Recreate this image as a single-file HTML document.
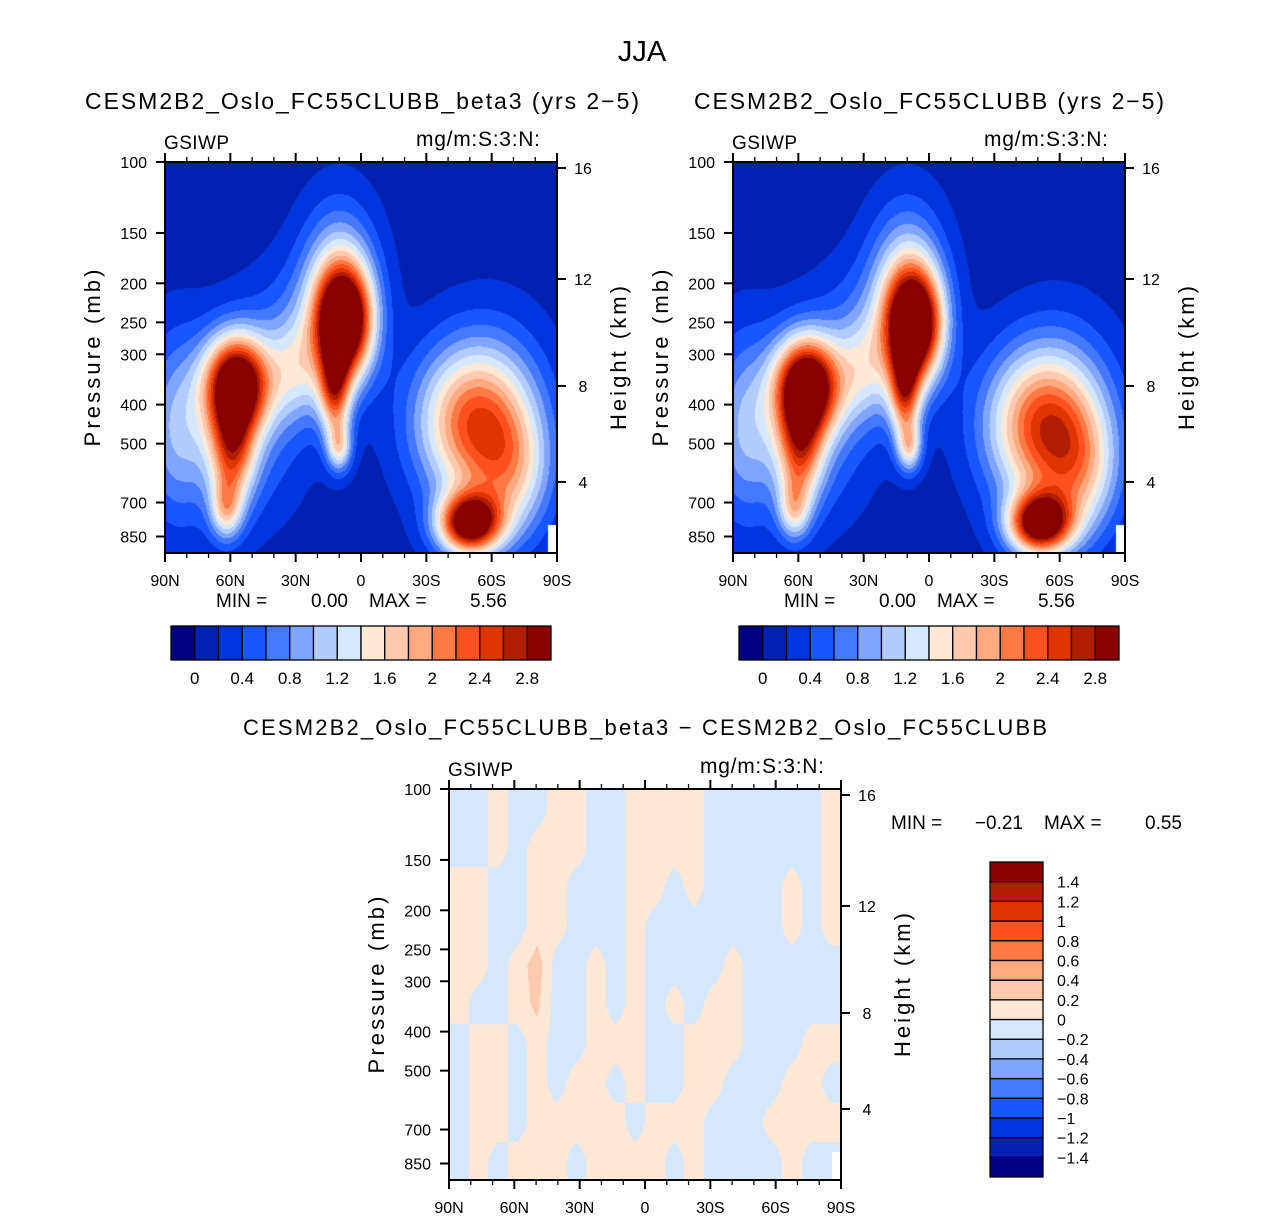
<!DOCTYPE html>
<html><head><meta charset="utf-8">
<style>
html,body{margin:0;padding:0;background:#fff;}
#wrap{position:relative;width:1285px;height:1219px;overflow:hidden;font-family:"Liberation Sans",sans-serif;}
canvas{position:absolute;}
svg{position:absolute;left:0;top:0;}
text{font-family:"Liberation Sans",sans-serif;fill:#000;}
</style></head>
<body>
<div id="wrap">
<canvas id="c1" width="392" height="391" style="left:165px;top:162px"></canvas>
<canvas id="c2" width="392" height="391" style="left:733px;top:162px"></canvas>
<canvas id="c3" width="392" height="392" style="left:449px;top:789px"></canvas>
<svg id="ov" width="1285" height="1219"></svg>
</div>
<script>
// ---- data ----
const palette = ["#000080","#0021b0","#0034dc","#1a56ff","#4478ff","#7fa5ff","#b3ccff","#d6e8ff","#ffe8d6","#ffcab0","#ffaa80","#ff7a45","#ff5020","#e03500","#b01e00","#880000"];
const topLevels = [0,0.2,0.4,0.6,0.8,1,1.2,1.4,1.6,1.8,2,2.2,2.4,2.6,2.8];
const topLabels = ["0","0.4","0.8","1.2","1.6","2","2.4","2.8"];
const diffLevels = [-1.4,-1.2,-1,-0.8,-0.6,-0.4,-0.2,0,0.2,0.4,0.6,0.8,1,1.2,1.4];
const diffLabels = ["1.4","1.2","1","0.8","0.6","0.4","0.2","0","\u22120.2","\u22120.4","\u22120.6","\u22120.8","\u22121","\u22121.2","\u22121.4"];
const latTicks = ["90N","60N","30N","0","30S","60S","90S"];
const presTicks = [100,150,200,250,300,400,500,700,850];
const heightTicks = [16,12,8,4];
const heightPos = [168,279,386,482];
// blobs: [lat(deg), pressure(mb), lat width(deg), log-p width, amplitude]
const blobs1 = [
 [57,355,10,0.19,2.9],[59,520,7,0.22,1.6],[62,730,5,0.12,1.1],
 [8,250,9,0.22,3.4],[12,370,5,0.18,1.8],[10,510,4,0.1,1.2],
 [30,330,9,0.2,0.7],
 [10,190,12,0.3,0.9],[25,270,18,0.3,0.5],
 [60,450,20,0.35,0.8],[86,460,10,0.38,0.6],
 [-50,440,18,0.3,1.7],[-50,790,10,0.12,3.0],[-70,600,12,0.25,0.8],[-62,470,18,0.4,0.7]
];
const blobs2 = [
 [56,360,10,0.19,3.0],[59,520,7,0.22,1.5],[62,730,5,0.12,1.0],
 [7,255,9,0.22,3.4],[11,375,5,0.18,1.8],[9,510,4,0.1,1.2],
 [30,330,9,0.2,0.7],
 [10,190,12,0.3,0.9],[25,270,18,0.3,0.5],
 [60,450,20,0.35,0.8],[86,460,10,0.38,0.6],
 [-51,450,18,0.3,1.8],[-51,790,10,0.12,3.0],[-70,600,12,0.25,0.8],[-62,470,18,0.4,0.7]
];
// difference field on a 20 (lat) x 10 (level) grid, top row first
const diffGrid = [
 [-.1,-.1,.1,-.1,-.1,.1,.1,-.1,-.1,.1,.1,.1,.1,-.1,-.1,-.1,-.1,-.1,-.1,.1],
 [-.1,-.1,.1,-.1,.1,.1,.1,-.1,-.1,.1,.1,.1,.1,-.1,-.1,-.1,-.1,-.1,-.1,.1],
 [.1,.1,-.1,-.1,.1,.1,-.1,-.1,-.1,.1,.1,-.1,.1,-.1,-.1,-.1,-.1,.1,-.1,.1],
 [.1,.1,-.1,-.1,.1,.1,-.1,-.1,-.1,.1,-.1,-.1,-.1,-.1,-.1,-.1,-.1,.1,-.1,.1],
 [.1,.1,-.1,.1,.3,-.1,-.1,.1,-.1,.1,-.1,-.1,-.1,-.1,.1,-.1,-.1,-.1,-.1,-.1],
 [.1,-.1,-.1,.1,.25,-.1,-.1,.1,-.1,.1,-.1,.1,-.1,.1,.1,-.1,-.1,-.1,-.1,-.1],
 [-.1,.1,.1,-.1,.1,-.1,-.1,.1,.1,.1,-.1,-.1,.1,.1,.1,-.1,-.1,-.1,.1,.1],
 [-.1,.1,.1,-.1,.1,-.1,.1,.1,-.1,.1,-.1,-.1,.1,.1,-.1,-.1,-.1,.1,.1,-.1],
 [-.1,.1,.1,-.1,.1,.1,.1,.1,.1,-.1,.1,.1,.1,-.1,-.1,-.1,.1,.1,.1,.1],
 [-.1,.1,-.1,.1,.1,.1,-.1,.1,.1,.1,.1,-.1,.1,-.1,-.1,-.1,-.1,.1,-.1,-.1]
];

// ---- axis functions ----
const W=392, H=391;
function xOfLat(lat){ return (90-lat)/180*W; }
function latOfX(x){ return 90 - x/W*180; }
function yOfP(p){ return 175*Math.log(p/100); }
function pOfY(y){ return 100*Math.exp(y/175); }
function levelIndex(v, levels){ let i=0; while(i<levels.length && v>=levels[i]) i++; return i; }
const rgb=palette.map(h=>[parseInt(h.slice(1,3),16),parseInt(h.slice(3,5),16),parseInt(h.slice(5,7),16)]);

function drawTop(id, blobs){
  const c=document.getElementById(id), ctx=c.getContext('2d');
  const img=ctx.createImageData(c.width,c.height);
  for(let y=0;y<c.height;y++){
    const lp=Math.log(pOfY(y+0.5));
    for(let x=0;x<c.width;x++){
      const lat=latOfX(x+0.5);
      let v=0.1;
      for(const b of blobs){
        const dx=(lat-b[0])/b[2], dy=(lp-Math.log(b[1]))/b[3];
        v+=b[4]*Math.exp(-0.5*(dx*dx+dy*dy));
      }
      const k=(y*c.width+x)*4;
      let col=rgb[levelIndex(v,topLevels)];
      if(x>382 && y>362){ col=[255,255,255]; }
      img.data[k]=col[0];img.data[k+1]=col[1];img.data[k+2]=col[2];img.data[k+3]=255;
    }
  }
  ctx.putImageData(img,0,0);
}
function drawDiff(){
  const c=document.getElementById('c3'), ctx=c.getContext('2d');
  const img=ctx.createImageData(c.width,c.height);
  const nc=diffGrid[0].length, nr=diffGrid.length;
  for(let y=0;y<c.height;y++){
    let gy=Math.min(Math.max((y+0.5)/c.height*nr-0.5,0),nr-1);
    const y0=Math.floor(gy), y1=Math.min(y0+1,nr-1), fy=gy-y0;
    for(let x=0;x<c.width;x++){
      let gx=Math.min(Math.max((x+0.5)/c.width*nc-0.5,0),nc-1);
      const x0=Math.floor(gx), x1=Math.min(x0+1,nc-1), fx=gx-x0;
      const v=(diffGrid[y0][x0]*(1-fx)+diffGrid[y0][x1]*fx)*(1-fy)+(diffGrid[y1][x0]*(1-fx)+diffGrid[y1][x1]*fx)*fy;
      const k=(y*c.width+x)*4;
      let col=rgb[levelIndex(v,diffLevels)];
      if(x>382 && y>362) col=[255,255,255];
      img.data[k]=col[0];img.data[k+1]=col[1];img.data[k+2]=col[2];img.data[k+3]=255;
    }
  }
  ctx.putImageData(img,0,0);
}
drawTop('c1',blobs1); drawTop('c2',blobs2); drawDiff();

// ---- SVG overlay ----
const NS="http://www.w3.org/2000/svg", svg=document.getElementById('ov');
function el(tag,attrs,parent){const e=document.createElementNS(NS,tag);for(const k in attrs)e.setAttribute(k,attrs[k]);(parent||svg).appendChild(e);return e;}
function txt(s,x,y,size,anchor,extra){const t=el('text',Object.assign({x:x,y:y,'font-size':size,'text-anchor':anchor||'start'},extra||{}));t.textContent=s;return t;}

function axes(ox,oy,name,hPos){
  const g=el('g',{});
  
  
  el('rect',{x:ox,y:oy,width:W,height:H,fill:'none',stroke:'#000','stroke-width':2},g);
  for(let lat=90;lat>=-90;lat-=10){
    const x=ox+xOfLat(lat), major=(lat%30===0), L=major?9:5;
    el('line',{x1:x,y1:oy+H,x2:x,y2:oy+H+L,stroke:'#000','stroke-width':major?2:1.3},g);
    el('line',{x1:x,y1:oy,x2:x,y2:oy-L,stroke:'#000','stroke-width':major?2:1.3},g);
  }
  latTicks.forEach((s,i)=>{
    const t=txt(s,ox+xOfLat(90-30*i),oy+H+33,16,'middle');
    g.appendChild(t);
    
    
  });
  presTicks.forEach(p=>{
    const y=oy+yOfP(p);
    el('line',{x1:ox-9,y1:y,x2:ox,y2:y,stroke:'#000','stroke-width':2},g);
    const t=txt(String(p),ox-18,y+6,16,'end');
    g.appendChild(t);
    
    
  });
  heightTicks.forEach((h,i)=>{
    const y=hPos[i];
    el('line',{x1:ox+W,y1:y,x2:ox+W+9,y2:y,stroke:'#000','stroke-width':2},g);
    const t=txt(String(h),ox+W+26,y+6,16,'middle');
    g.appendChild(t);
    
    
  });
  const yt=txt('Pressure (mb)',0,0,22,'middle',{transform:`translate(${ox-65},${oy+196}) rotate(-90)`,textLength:177});
  
  
  const ht=txt('Height (km)',0,0,22,'middle',{transform:`translate(${ox+W+69},${oy+196}) rotate(-90)`,textLength:144});
  
  
  const v=txt('GSIWP',ox-1,oy-13,19,'start',{textLength:65});
  
  
  const u=txt('mg/m:S:3:N:',ox+251,oy-16,21,'start',{textLength:124});
  
  
}
axes(165,162,'panel-beta3',heightPos);
axes(733,162,'panel-control',heightPos);
axes(449,789,'panel-difference',heightPos.map(y=>y+627));

const t0=txt('JJA',642,61,29,'middle');  
const t1=txt('CESM2B2_Oslo_FC55CLUBB_beta3 (yrs 2\u22125)',85,109,23,'start',{textLength:554});  
const t2=txt('CESM2B2_Oslo_FC55CLUBB (yrs 2\u22125)',694,109,23,'start',{textLength:470});  
const t3=txt('CESM2B2_Oslo_FC55CLUBB_beta3 \u2212 CESM2B2_Oslo_FC55CLUBB',243,735,22,'start',{textLength:804});  

function minmax(x,y,minv,maxv,name){
  const g=el('g',{});
  
  
  g.appendChild(txt('MIN =',x,y,19,'start'));
  g.appendChild(txt(minv,x+132,y,19,'end'));
  g.appendChild(txt('MAX =',x+153,y,19,'start'));
  g.appendChild(txt(maxv,x+291,y,19,'end'));
}
minmax(216,607,'0.00','5.56','minmax-beta3');
minmax(784,607,'0.00','5.56','minmax-control');
minmax(891,829,'\u22120.21','0.55','minmax-difference');

function hbar(x0,y0,name){
  const g=el('g',{});
  
  
  const bw=380/palette.length;
  palette.forEach((c,i)=>{
    const r=el('rect',{x:x0+i*bw,y:y0,width:bw,height:34,fill:c,stroke:'#000','stroke-width':1.3},g);
    
    
  });
  topLabels.forEach((s,i)=>{
    const t=txt(s,x0+bw*(1+2*i),y0+58,17,'middle');
    g.appendChild(t);
    
    
  });
}
hbar(171,626,'colorbar-beta3');
hbar(739,626,'colorbar-control');

(function(){
  const g=el('g',{});
  
  
  const x0=990,y0=862,bh=315/palette.length;
  palette.forEach((c,i)=>{
    const r=el('rect',{x:x0,y:y0+(15-i)*bh,width:53,height:bh,fill:c,stroke:'#000','stroke-width':1.3},g);
    
    
  });
  diffLabels.forEach((s,i)=>{
    const t=txt(s,1057,y0+bh*(i+1)+6,16,'start');
    g.appendChild(t);
    
    
  });
})();
</script>
</body></html>
